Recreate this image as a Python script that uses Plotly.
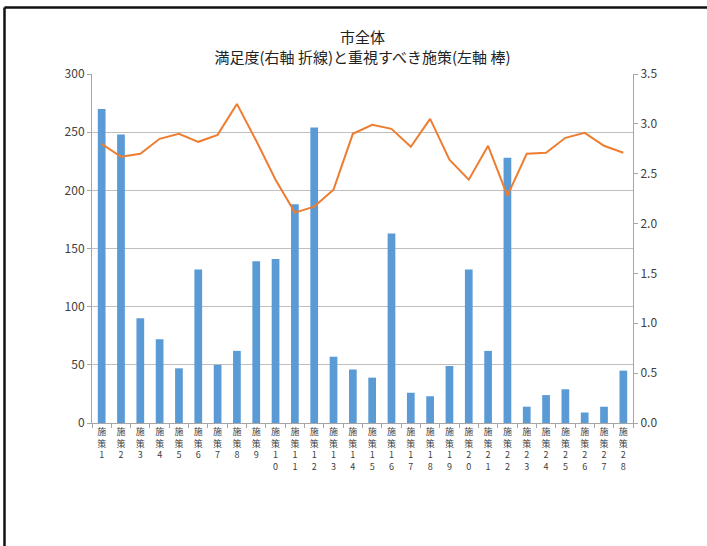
import plotly.graph_objects as go

categories = [f"施策{i}" for i in range(1, 29)]
importance = [270, 248, 90, 72, 47, 132, 50, 62, 139, 141, 188, 254, 57, 46,
              39, 163, 26, 23, 49, 132, 62, 228, 14, 24, 29, 9, 14, 45]
satisfaction = [2.80, 2.67, 2.70, 2.85, 2.90, 2.82, 2.89, 3.20, 2.83, 2.44,
                2.11, 2.17, 2.34, 2.90, 2.99, 2.95, 2.77, 3.05, 2.64, 2.44,
                2.78, 2.28, 2.70, 2.71, 2.86, 2.91, 2.78, 2.71]


def stacked(label):
    return "<br>".join(list(label))


tick_text = [stacked(c) for c in categories]

fig = go.Figure()
fig.add_trace(go.Bar(x=categories, y=importance, marker_color="#5B9BD5",
                     marker_line_width=0, yaxis="y"))
fig.add_trace(go.Scatter(x=categories, y=satisfaction, mode="lines",
                         line=dict(color="#ED7D31", width=2), yaxis="y2"))

axis_font = dict(family="Noto Sans CJK JP", size=12, color="#404040")

fig.update_layout(
    width=707, height=546,
    margin=dict(l=92, r=74, t=74, b=123),
    paper_bgcolor="white", plot_bgcolor="white",
    showlegend=False, bargap=0.6,
    title=dict(text="市全体<br>満足度(右軸 折線)と重視すべき施策(左軸 棒)",
               x=(92 + 633) / 2 / 707, xanchor="center",
               yref="container", y=1 - 43 / 546, yanchor="top",
               font=dict(family="Noto Sans CJK JP", size=15, color="#222222")),
    xaxis=dict(tickmode="array", tickvals=categories, ticktext=tick_text,
               tickangle=0, showline=True, linecolor="#A6A6A6", linewidth=1,
               ticks="outside", tickson="boundaries", ticklen=4, tickcolor="#A6A6A6",
               tickfont=dict(family="Noto Sans CJK JP", size=9, color="#404040"),
               showgrid=False),
    yaxis=dict(range=[0, 300], dtick=50, showgrid=True, gridcolor="#BFBFBF",
               gridwidth=1, showline=True, linecolor="#A6A6A6", ticks="outside",
               ticklen=4, tickcolor="#A6A6A6", tickfont=axis_font, zeroline=False),
    yaxis2=dict(range=[0, 3.5], dtick=0.5, tickformat=".1f", overlaying="y",
                side="right", showgrid=False, showline=True, linecolor="#A6A6A6",
                ticks="outside", ticklen=4, tickcolor="#A6A6A6", tickfont=axis_font,
                zeroline=False),
)

# outer frame (top and left edges visible)
fig.add_shape(type="line", xref="paper", yref="paper",
              x0=(4.5 - 92) / 541, x1=(707 - 92) / 541,
              y0=(423 - 7.5) / 349, y1=(423 - 7.5) / 349,
              line=dict(color="#111111", width=2.5))
fig.add_shape(type="line", xref="paper", yref="paper",
              x0=(4.5 - 92) / 541, x1=(4.5 - 92) / 541,
              y0=(423 - 7.5) / 349, y1=(423 - 546) / 349,
              line=dict(color="#111111", width=2.5))

fig.write_html("out.html", config={"displayModeBar": False},
               post_script="document.body.style.margin='0';document.body.style.padding='0';")
